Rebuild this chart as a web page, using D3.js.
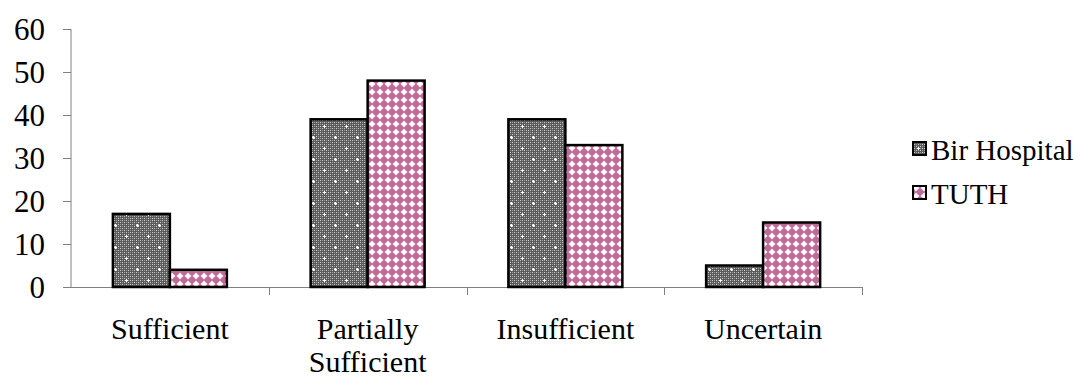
<!DOCTYPE html>
<html><head><meta charset="utf-8">
<script src="https://cdn.jsdelivr.net/npm/d3@7"></script>
<style>body{margin:0;background:#fff;} svg{display:block;}</style>
</head><body>
<svg id="c" width="1078" height="379"></svg>
<script>
const categories = [["Sufficient"], ["Partially", "Sufficient"], ["Insufficient"], ["Uncertain"]];
const seriesNames = ["Bir Hospital", "TUTH"];
const birValues = [17, 39, 39, 5];
const tuthValues = [4, 48, 33, 15];
const yTicks = [0, 10, 20, 30, 40, 50, 60];

const FONT = '"Liberation Serif", "Times New Roman", serif';
const svg = d3.select("#c");
const defs = svg.append("defs");
// dark dotted pattern
const p1 = defs.append("pattern").attr("id","pBir").attr("patternUnits","userSpaceOnUse").attr("width",4).attr("height",4);
p1.append("rect").attr("width",4).attr("height",4).attr("fill","#5a5a5a");
p1.append("rect").attr("x",0).attr("y",0).attr("width",1).attr("height",1).attr("fill","#d0d0d0");
p1.append("rect").attr("x",2).attr("y",2).attr("width",1).attr("height",1).attr("fill","#d0d0d0");
p1.append("rect").attr("x",2).attr("y",0).attr("width",1).attr("height",1).attr("fill","#9a9a9a");
p1.append("rect").attr("x",0).attr("y",2).attr("width",1).attr("height",1).attr("fill","#9a9a9a");
const p1b = defs.append("pattern").attr("id","pBirStar").attr("patternUnits","userSpaceOnUse").attr("width",22).attr("height",22);
p1b.append("rect").attr("width",22).attr("height",22).attr("fill","url(#pBir)");
[[5,5],[16,16]].forEach(([x,y])=>{
  p1b.append("rect").attr("x",x-1).attr("y",y).attr("width",3).attr("height",1).attr("fill","#fff");
  p1b.append("rect").attr("x",x).attr("y",y-1).attr("width",1).attr("height",3).attr("fill","#fff");
});
// pink lattice pattern
const p2 = defs.append("pattern").attr("id","pTuth").attr("patternUnits","userSpaceOnUse").attr("width",8).attr("height",8);
p2.append("rect").attr("width",8).attr("height",8).attr("fill","#c06a98");
p2.append("path").attr("d","M4,0.5 L7.5,4 L4,7.5 L0.5,4Z").attr("fill","#f4dbe8");
p2.append("rect").attr("x",3).attr("y",1.5).attr("width",2).attr("height",5).attr("fill","#fff");
p2.append("rect").attr("x",1.5).attr("y",3).attr("width",5).attr("height",2).attr("fill","#fff");

const x0 = 71, x1 = 862, yTop = 29, yBot = 287;
const x = d3.scaleBand().domain(d3.range(categories.length)).range([x0, x1]).paddingInner(0).paddingOuter(0);
const y = d3.scaleLinear().domain([0, 60]).range([yBot, yTop]);
const bw = 57;

// y axis
const gy = svg.append("g").attr("transform",`translate(${x0},0)`)
  .call(d3.axisLeft(y).tickValues(yTicks).tickSize(8).tickPadding(18).tickFormat(d3.format("d")));
gy.attr("font-family", null).attr("font-size", null);
gy.select(".domain").attr("stroke","#808080").attr("stroke-width",1).attr("d",`M0,${yTop}V${yBot}`);
gy.selectAll(".tick line").attr("stroke","#808080");
gy.selectAll("text").style("font-family",FONT).style("font-size","31px").attr("fill","#000").attr("dy","0.33em");

// x axis
const gx = svg.append("g");
gx.append("line").attr("x1",x0-8).attr("x2",x1).attr("y1",yBot+0.5).attr("y2",yBot+0.5).attr("stroke","#808080");
d3.range(1, categories.length+1).forEach(i=>{
  const xv = i<categories.length ? x(i) : x1;
  gx.append("line").attr("x1",Math.round(xv)+0.5).attr("x2",Math.round(xv)+0.5).attr("y1",yBot).attr("y2",yBot+8).attr("stroke","#808080");
});
categories.forEach((lines,i)=>{
  const t = gx.append("text").attr("text-anchor","middle").style("font-family",FONT).style("font-size","30px").attr("fill","#000");
  lines.forEach((l,j)=>t.append("tspan").attr("x",x(i)+x.bandwidth()/2).attr("y",339+j*33).text(l));
});

// bars
const seriesVals = [birValues, tuthValues];
const fills = ["url(#pBirStar)", "url(#pTuth)"];
seriesVals.forEach((vals,s)=>{
  svg.append("g").selectAll("rect").data(vals).join("rect")
    .attr("x",(d,i)=>x(i)+x.bandwidth()/2 - bw + s*bw)
    .attr("y",d=>y(d))
    .attr("width",bw)
    .attr("height",d=>yBot - y(d))
    .attr("fill",fills[s])
    .attr("stroke","#000").attr("stroke-width",2.5);
});

// legend
const lg = svg.append("g");
seriesNames.forEach((n,i)=>{
  const base = 160 + i*44;
  lg.append("rect").attr("x",913).attr("y",base-18).attr("width",13).attr("height",13).attr("fill",fills[i]).attr("stroke","#000").attr("stroke-width",2);
  lg.append("text").attr("x",931).attr("y",base).style("font-family",FONT).style("font-size","29px").attr("fill","#000").text(n);
});
</script>
</body></html>
